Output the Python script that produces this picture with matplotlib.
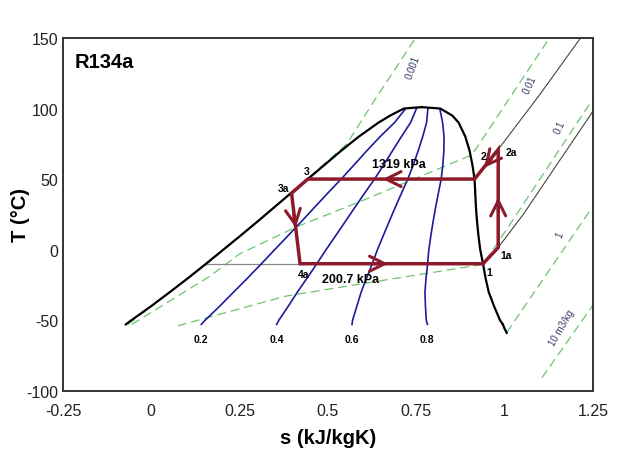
import numpy as np
import matplotlib
matplotlib.use("Agg")
import matplotlib.pyplot as plt

plt.rcParams['font.family'] = ['Liberation Sans', 'DejaVu Sans']
plt.rcParams['axes.unicode_minus'] = False

# saturation dome
T_sat = [-53, -50, -40, -30, -20, -10, 0, 10, 20, 30, 40, 50, 60, 70, 80, 90, 95, 100, 101]
s_liq = [-0.072, -0.056, 0.000, 0.053, 0.105, 0.155, 0.204, 0.253, 0.301, 0.348,
         0.395, 0.443, 0.490, 0.537, 0.587, 0.643, 0.676, 0.715, 0.765]
s_vap = [0.995, 0.987, 0.970, 0.955, 0.946, 0.939, 0.931, 0.926, 0.922, 0.919,
         0.917, 0.915, 0.909, 0.901, 0.889, 0.870, 0.852, 0.818, 0.765]
T_vap_tail = [-53, -56, -59]
s_vap_tail = [0.995, 1.000, 1.006]

# quality lines: where they meet the top of the dome
qualities = [0.2, 0.4, 0.6, 0.8]
q_end_s = [0.718, 0.751, 0.783, 0.817]
q_end_T = [99.3, 100.2, 100.2, 99.5]

# constant specific volume lines (s, T)
v001_s = [-0.066, 0.158, 0.35, 0.553, 0.627, 0.748]
v001_T = [-53, -10, 30, 74.7, 104, 150]
v01_s = [-0.055, 0.166, 0.25, 0.41, 0.60, 0.82, 0.906, 0.922, 1.127]
v01_T = [-53, -18.8, -3, 16, 35, 58, 67, 72.6, 150]
v1_s = [0.075, 0.38, 0.70, 0.939, 0.987, 1.034, 1.25]
v1_T = [-54, -33, -20, -10.5, 7.3, 25, 106.7]
v10_s = [1.006, 1.25]
v10_T = [-58.8, 30.7]
v100_s = [1.106, 1.25]
v100_T = [-90.7, -39.5]

# isobars in the superheated region
p_hi_s = [0.915, 0.95, 0.982, 1.10, 1.215]
p_hi_T = [50, 60.5, 71, 110, 150]
p_lo_s = [0.939, 0.982, 1.053, 1.15, 1.25]
p_lo_T = [-10, 1.5, 25, 61, 98]

# refrigeration cycle 1-1a-2a-2-3-3a-4a-1
cyc_s = [0.939, 0.982, 0.982, 0.915, 0.443, 0.397, 0.421, 0.939]
cyc_T = [-10, 1.5, 71, 50, 50, 40, -10, -10]
cyc_lab = ['1', '1a', '2a', '2', '3', '3a', '4a']
lab_s = [0.956, 1.004, 1.018, 0.940, 0.440, 0.374, 0.432]
lab_T = [-16, -4, 69.5, 66.4, 55.8, 43.5, -17]

green = '#6cc46c'
blue = '#1c1c9c'
red = '#8c1a2a'

fig = plt.figure(figsize=(6.4, 4.56), dpi=100)
ax = fig.add_axes([0.0984, 0.141, 0.828, 0.7735])

dash = (0, (7, 4))
for xs, ys in [(v001_s, v001_T), (v01_s, v01_T), (v1_s, v1_T), (v10_s, v10_T), (v100_s, v100_T)]:
    ax.plot(xs, ys, color=green, lw=0.9, ls=dash, zorder=1)

ax.plot(p_hi_s, p_hi_T, color='#444444', lw=0.8, zorder=2)
ax.plot(p_lo_s, p_lo_T, color='#444444', lw=0.8, zorder=2)
ax.plot([s_liq[5], cyc_s[6]], [-10, -10], color='#888888', lw=0.9, zorder=2)

# quality lines from the dome values, bent into the top of the dome
sl = np.array(s_liq)
sv = np.array(s_vap)
Ts = np.array(T_sat, dtype=float)
m = Ts <= 90
for q, es, et in zip(qualities, q_end_s, q_end_T):
    sq = np.append((sl + q * (sv - sl))[m], es)
    Tq = np.append(Ts[m], et)
    ax.plot(sq, Tq, color=blue, lw=1.2, zorder=3)
    ax.text(sq[0], -63, str(q), fontsize=7.5, fontweight='bold', ha='center', va='center')

ax.plot(s_liq, T_sat, color='black', lw=1.6, zorder=4)
ax.plot(s_vap, T_sat, color='black', lw=1.6, zorder=4)
ax.plot(s_vap_tail, T_vap_tail, color='black', lw=1.6, zorder=4)

ax.plot(cyc_s, cyc_T, color=red, lw=2.5, zorder=5, solid_joinstyle='miter')
arrows = [((0.70, 50), (0.655, 50)), ((0.62, -10), (0.67, -10)),
          ((0.403, 25), (0.409, 15.5)), ((0.982, 27), (0.982, 37)),
          ((0.962, 64.2), (0.942, 58))]
for tail, tip in arrows:
    ax.annotate('', xy=tip, xytext=tail, zorder=6,
                arrowprops=dict(arrowstyle='->,head_length=0.9,head_width=0.45',
                                color=red, lw=2.2, shrinkA=0, shrinkB=0, mutation_scale=12))

for t, x, y in zip(cyc_lab, lab_s, lab_T):
    ax.text(x, y, t, fontsize=7.5, fontweight='bold', ha='center', va='center', zorder=7)
ax.text(0.702, 60.5, '1319 kPa', fontsize=9, fontweight='bold', ha='center', va='center')
ax.text(0.564, -21, '200.7 kPa', fontsize=9, fontweight='bold', ha='center', va='center')
ax.text(-0.218, 133.5, 'R134a', fontsize=14.5, fontweight='bold', ha='left', va='center')

vcol = '#3a3a6a'
ax.text(0.741, 130, '0.001', fontsize=7, color=vcol, rotation=70, ha='center', va='center')
ax.text(1.071, 117, '0.01', fontsize=7, color=vcol, rotation=65, ha='center', va='center')
ax.text(1.157, 87, '0.1', fontsize=7, color=vcol, rotation=65, ha='center', va='center')
ax.text(1.157, 11, '1', fontsize=7, color=vcol, rotation=65, ha='center', va='center')
ax.text(1.161, -55, '10 m3/kg', fontsize=7, color=vcol, rotation=60, ha='center', va='center')

ax.set_xlim(-0.25, 1.25)
ax.set_ylim(-100, 150)
ax.set_xticks([-0.25, 0, 0.25, 0.5, 0.75, 1, 1.25])
ax.set_xticklabels(['-0.25', '0', '0.25', '0.5', '0.75', '1', '1.25'])
ax.set_yticks([-100, -50, 0, 50, 100, 150])
ax.tick_params(length=0, labelsize=11.5, colors='#222222')
ax.tick_params(axis='x', pad=9)
ax.tick_params(axis='y', pad=3.5)
for sp in ax.spines.values():
    sp.set_linewidth(1.4)
    sp.set_color('#333333')
ax.set_xlabel('s (kJ/kgK)', fontsize=14.5, fontweight='bold')
ax.set_ylabel('T (°C)', fontsize=14.5, fontweight='bold')
ax.xaxis.set_label_coords(0.5, -0.106)
ax.xaxis.label.set_va('top')
ax.yaxis.set_label_coords(-0.062, 0.5)

fig.savefig('out.png', dpi=100)
